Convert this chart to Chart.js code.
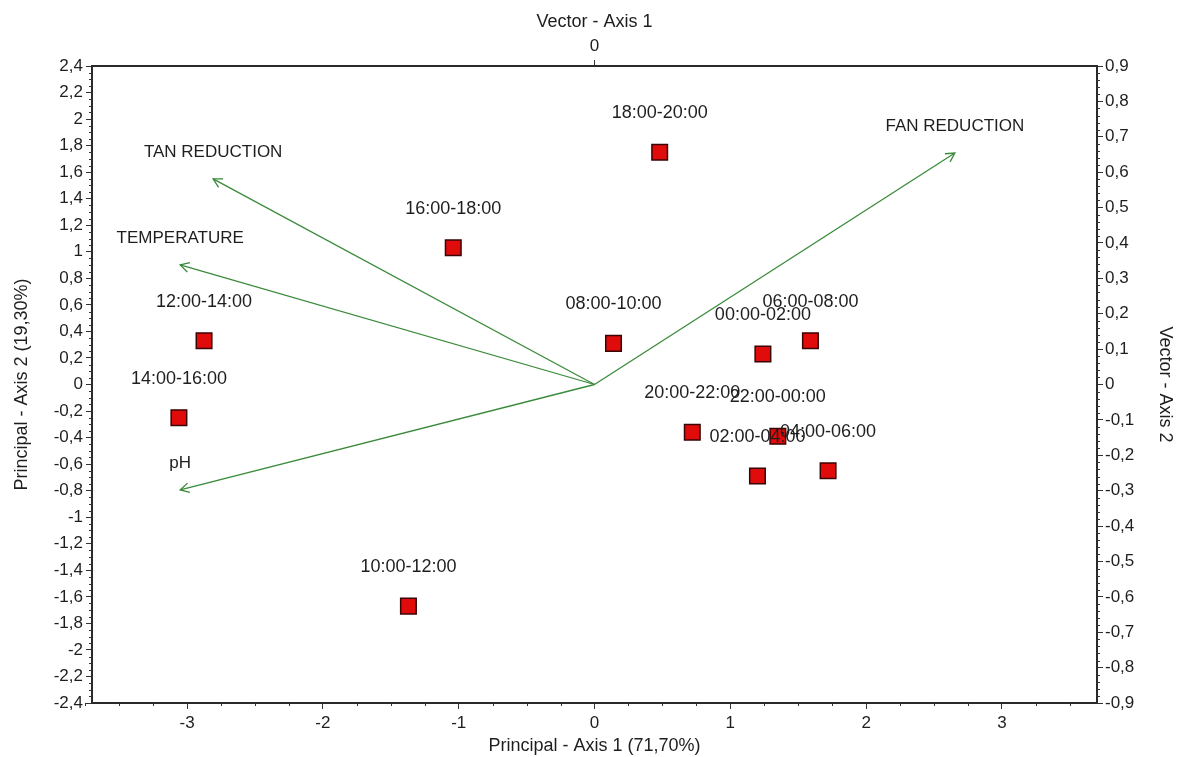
<!DOCTYPE html>
<html>
<head>
<meta charset="utf-8">
<script src="https://cdn.jsdelivr.net/npm/chart.js@4/dist/chart.umd.min.js"></script>
<style>
  body { margin: 0; background: #fff; }
  canvas { display: block; }
</style>
</head>
<body>
<canvas id="myChart" width="1182" height="757"></canvas>
<script>
// Sample points (principal axes)
var periods = ["00:00-02:00", "02:00-04:00", "04:00-06:00", "06:00-08:00",
    "08:00-10:00", "10:00-12:00", "12:00-14:00", "14:00-16:00",
    "16:00-18:00", "18:00-20:00", "20:00-22:00", "22:00-00:00"];
var pcX = [1.24, 1.20, 1.72, 1.59, 0.14, -1.37, -2.875, -3.06, -1.04, 0.48, 0.72, 1.35];
var pcY = [0.23, -0.69, -0.65, 0.33, 0.31, -1.67, 0.33, -0.25, 1.03, 1.75, -0.36, -0.39];

// Variable vectors (vector axes)
var vectorNames = ["FAN REDUCTION", "TAN REDUCTION", "TEMPERATURE", "pH"];
var vecX = [0.995, -1.053, -1.144, -1.144];
var vecY = [0.654, 0.581, 0.338, -0.298];

// Tick labels
var xTicks = [-3, -2, -1, 0, 1, 2, 3];
var x2Ticks = [0];

var textColor = "#1e1e1e";
var fontFamily = "'Liberation Sans', Arial, sans-serif";
var green = "#3a8a3a";

function comma(v) {
    return (Math.round(v * 100) / 100).toString().replace(".", ",");
}

// Build datasets
var points = periods.map(function (p, i) { return { x: pcX[i], y: pcY[i] }; });
var datasets = [{
    label: "periods",
    data: points,
    xAxisID: "x",
    yAxisID: "y",
    pointStyle: "rect",
    pointRadius: 11,
    backgroundColor: "#e00b0b",
    borderColor: "#3a0505",
    borderWidth: 1.5,
    order: 0
}];
vectorNames.forEach(function (name, i) {
    datasets.push({
        label: name,
        data: [{ x: 0, y: 0 }, { x: vecX[i], y: vecY[i] }],
        xAxisID: "x2",
        yAxisID: "y2",
        showLine: true,
        borderColor: green,
        borderWidth: 1.3,
        pointRadius: 0,
        fill: false,
        order: 1
    });
});

// Minor ticks, arrowheads and labels
var decorations = {
    id: "decorations",
    afterDraw: function (chart) {
        var ctx = chart.ctx;
        var s = chart.scales;
        ctx.save();
        ctx.strokeStyle = "#333";
        ctx.lineWidth = 1;
        // minor ticks
        function minor(scale, step, skip, side) {
            for (var v = scale.min; v <= scale.max + 1e-9; v += step) {
                var r = Math.round(v / step) * step;
                if (Math.abs(r / skip - Math.round(r / skip)) < 1e-6) continue;
                var p = Math.round(scale.getPixelForValue(r)) + 0.5;
                ctx.beginPath();
                if (side === "left") { ctx.moveTo(scale.right, p); ctx.lineTo(scale.right - 3, p); }
                if (side === "right") { ctx.moveTo(scale.left, p); ctx.lineTo(scale.left + 3, p); }
                if (side === "bottom") { ctx.moveTo(p, scale.top); ctx.lineTo(p, scale.top + 3); }
                ctx.stroke();
            }
        }
        minor(s.y, 0.05, 0.2, "left");
        minor(s.y2, 0.02, 0.1, "right");
        minor(s.x, 0.25, 1, "bottom");

        // arrowheads and vector labels
        ctx.strokeStyle = green;
        ctx.lineWidth = 1.3;
        ctx.fillStyle = textColor;
        ctx.font = "17px " + fontFamily;
        ctx.textAlign = "center";
        ctx.textBaseline = "middle";
        for (var d = 1; d < chart.data.datasets.length; d++) {
            var meta = chart.getDatasetMeta(d);
            var a = meta.data[0], b = meta.data[1];
            var ang = Math.atan2(b.y - a.y, b.x - a.x);
            var len = 10;
            ctx.beginPath();
            ctx.moveTo(b.x - len * Math.cos(ang - 0.5), b.y - len * Math.sin(ang - 0.5));
            ctx.lineTo(b.x, b.y);
            ctx.lineTo(b.x - len * Math.cos(ang + 0.5), b.y - len * Math.sin(ang + 0.5));
            ctx.stroke();
            ctx.fillText(chart.data.datasets[d].label, b.x, b.y - 27);
        }

        // period labels
        ctx.font = "18px " + fontFamily;
        var pm = chart.getDatasetMeta(0);
        pm.data.forEach(function (el, i) {
            ctx.fillText(periods[i], el.x, el.y - 39);
        });
        ctx.restore();
    }
};

function fixSize(prop, size) {
    return function (scale) { scale[prop] = size; };
}

var tickFont = { family: fontFamily, size: 17 };
var titleFont = { family: fontFamily, size: 18 };
var gridOpts = { drawOnChartArea: false, drawTicks: true, tickLength: 6, color: "#333" };
var borderOpts = { display: true, color: "#2a2a2a", width: 2 };

new Chart("myChart", {
    type: "scatter",
    data: { datasets: datasets },
    options: {
        responsive: false,
        animation: false,
        layout: { padding: 0 },
        plugins: { legend: { display: false }, tooltip: { enabled: false } },
        scales: {
            x: {
                type: "linear", position: "bottom", min: -3.7, max: 3.7,
                afterBuildTicks: function (sc) { sc.ticks = xTicks.map(function (v) { return { value: v }; }); },
                afterFit: fixSize("height", 54),
                grid: gridOpts, border: borderOpts,
                ticks: { font: tickFont, color: textColor, padding: 4, maxRotation: 0, callback: function (v) { return comma(v); } },
                title: { display: true, text: "Principal - Axis 1 (71,70%)", font: titleFont, color: textColor, padding: { top: 0, bottom: 0 } }
            },
            x2: {
                type: "linear", position: "top", min: -1.3875, max: 1.3875,
                afterBuildTicks: function (sc) { sc.ticks = x2Ticks.map(function (v) { return { value: v }; }); },
                afterFit: fixSize("height", 66),
                grid: gridOpts, border: borderOpts,
                ticks: { font: tickFont, color: textColor, padding: 3, maxRotation: 0, callback: function (v) { return comma(v); } },
                title: { display: true, text: "Vector - Axis 1", font: titleFont, color: textColor, padding: { top: 11, bottom: 0 } }
            },
            y: {
                type: "linear", position: "left", min: -2.4, max: 2.4,
                afterFit: fixSize("width", 92),
                grid: gridOpts, border: borderOpts,
                ticks: { stepSize: 0.2, font: tickFont, color: textColor, padding: 3, callback: function (v) { return comma(v); } },
                title: { display: true, text: "Principal - Axis 2 (19,30%)", font: titleFont, color: textColor, padding: { top: 11, bottom: 0 } }
            },
            y2: {
                type: "linear", position: "right", min: -0.9, max: 0.9,
                afterFit: fixSize("width", 85),
                grid: gridOpts, border: borderOpts,
                ticks: { stepSize: 0.1, font: tickFont, color: textColor, padding: 2, callback: function (v) { return comma(v); } },
                title: { display: true, text: "Vector - Axis 2", font: titleFont, color: textColor, padding: { top: 6, bottom: 0 } }
            }
        }
    },
    plugins: [decorations]
});
</script>
</body>
</html>
